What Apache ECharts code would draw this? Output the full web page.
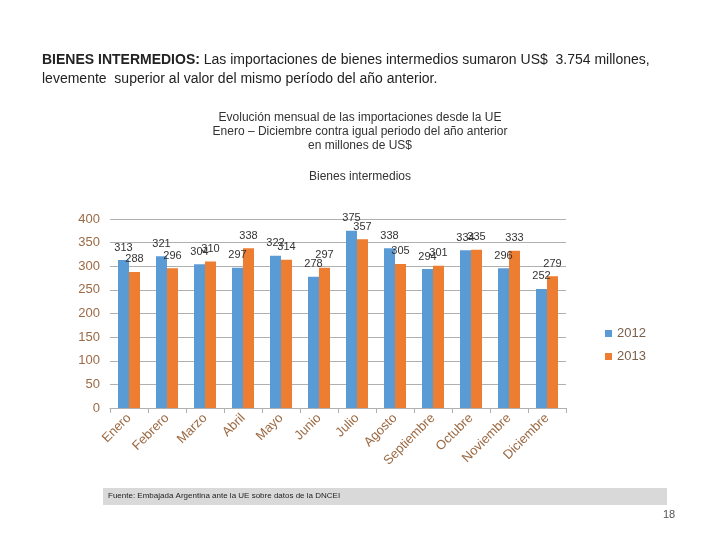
<!DOCTYPE html>
<html>
<head>
<meta charset="utf-8">
<script src="https://cdn.jsdelivr.net/npm/echarts@6/dist/echarts.min.js"></script>
<style>html,body{margin:0;padding:0;background:#fff}#c{width:720px;height:540px}</style>
</head>
<body>
<div id="c"></div>
<script>
const categories = ['Enero','Febrero','Marzo','Abril','Mayo','Junio','Julio','Agosto','Septiembre','Octubre','Noviembre','Diciembre'];
const values2012 = [313, 321, 304, 297, 322, 278, 375, 338, 294, 334, 296, 252];
const values2013 = [288, 296, 310, 338, 314, 297, 357, 305, 301, 335, 333, 279];
const yTicks = [0, 50, 100, 150, 200, 250, 300, 350, 400];

const FONT = '"Liberation Sans", Arial, sans-serif';
const AXIS_COLOR = '#9c6a44';

const chart = echarts.init(document.getElementById('c'));
chart.setOption({
  animation: false,
  textStyle: { fontFamily: FONT },
  grid: { left: 110, right: 154, top: 219, bottom: 132 },
  legend: {
    orient: 'vertical',
    left: 600, top: 322,
    itemWidth: 7, itemHeight: 7, itemGap: 10,
    icon: 'rect',
    textStyle: { color: '#7a5f4a', fontSize: 13, fontFamily: FONT },
    data: ['2012', '2013']
  },
  xAxis: {
    type: 'category',
    data: categories,
    axisLine: { show: true, lineStyle: { color: '#b0b0b0' } },
    axisTick: { show: true, length: 5, lineStyle: { color: '#b0b0b0' } },
    axisLabel: { rotate: 45, color: AXIS_COLOR, fontSize: 13, fontFamily: FONT, margin: 8, interval: 0 }
  },
  yAxis: {
    type: 'value',
    min: yTicks[0], max: yTicks[yTicks.length - 1], interval: 50,
    axisLine: { show: false },
    axisTick: { show: false },
    axisLabel: { color: AXIS_COLOR, fontSize: 13, fontFamily: FONT, margin: 10 },
    splitLine: { lineStyle: { color: '#b0b0b0' } }
  },
  series: [
    {
      name: '2012', type: 'bar', data: values2012,
      barWidth: 11, barGap: '0%',
      itemStyle: { color: '#5b9bd5' },
      label: { show: true, position: 'top', distance: 7, color: '#333', fontSize: 11, fontFamily: FONT }
    },
    {
      name: '2013', type: 'bar', data: values2013,
      barWidth: 11, barGap: '0%',
      itemStyle: { color: '#ed7d31' },
      label: { show: true, position: 'top', distance: 7, color: '#333', fontSize: 11, fontFamily: FONT }
    }
  ],
  graphic: [
    {
      type: 'text', left: 42, top: 51,
      style: {
        text: '{b|BIENES INTERMEDIOS:} Las importaciones de bienes intermedios sumaron US$  3.754 millones,\nlevemente  superior al valor del mismo período del año anterior.',
        rich: {
          b: { fontWeight: 'bold', fontSize: 14, fontFamily: FONT, fill: '#222' }
        },
        fontSize: 14, fontFamily: FONT, fill: '#222', lineHeight: 19
      }
    },
    {
      type: 'text', left: 'center', top: 111,
      style: {
        text: 'Evolución mensual de las importaciones desde la UE\nEnero – Diciembre contra igual periodo del año anterior\nen millones de US$',
        textAlign: 'center',
        fontSize: 12, fontFamily: FONT, fill: '#333', lineHeight: 14
      }
    },
    {
      type: 'text', left: 'center', top: 171,
      style: { text: 'Bienes intermedios', fontSize: 12, fontFamily: FONT, fill: '#333' }
    },
    {
      type: 'rect', shape: { x: 103, y: 488, width: 564, height: 17 },
      style: { fill: '#d9d9d9' }
    },
    {
      type: 'text', left: 108, top: 492,
      style: { text: 'Fuente: Embajada Argentina ante la UE sobre datos de la DNCEI', fontSize: 8, fontFamily: FONT, fill: '#222' }
    },
    {
      type: 'text', left: 663, top: 509,
      style: { text: '18', fontSize: 11, fontFamily: FONT, fill: '#555' }
    }
  ]
});
</script>
</body>
</html>
